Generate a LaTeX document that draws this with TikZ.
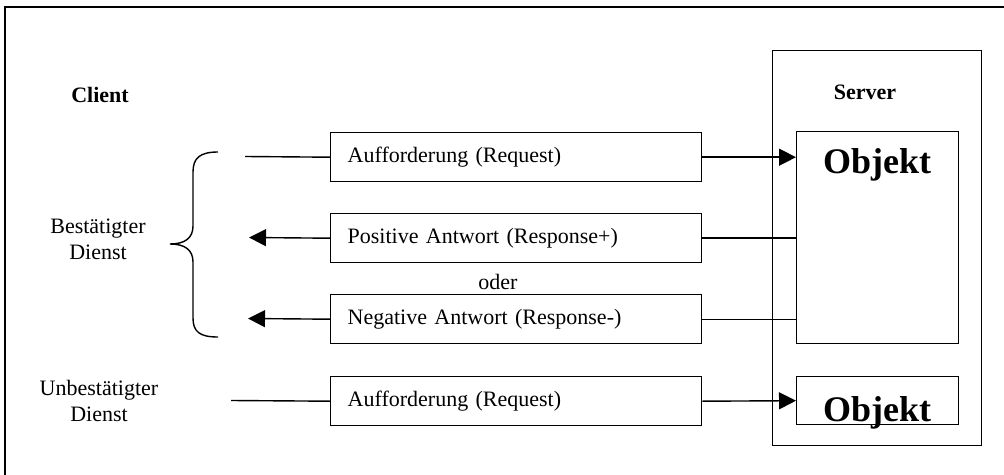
\documentclass[tikz,border=0pt]{standalone}
\usepackage{fontspec}
\setmainfont{Liberation Serif}
\usetikzlibrary{arrows.meta}
\begin{document}
\begin{tikzpicture}[x=0.5pt,y=-0.5pt,line width=0.7pt,
  every node/.style={font=\fontsize{11}{13}\selectfont},
  msgbox/.style={draw,anchor=north west,minimum height=24.5pt,text width=168.5pt,
    inner xsep=8.5pt,inner ysep=0pt,align=left},
  plainbox/.style={draw,anchor=north west,inner sep=0pt},
  bigword/.style={font=\fontsize{18}{20}\selectfont\bfseries},
  tip/.style={-{Triangle[length=8.5pt,width=8.5pt]}}]
\useasboundingbox (0,0) rectangle (1004,475);

% outer frame
\draw (5,475) -- (5,7) -- (1004,7);

% server side
\node[plainbox,minimum width=104.5pt,minimum height=197.5pt] (server) at (772,50) {};
\node (servertxt) at (865,92) {\bfseries Server};
\node[plainbox,minimum width=81pt,minimum height=106pt] (obj1) at (796,131) {};
\node[bigword] (obj1txt) at (877,165) {Objekt};
\node[plainbox,minimum width=81pt,minimum height=24pt] (obj2) at (796,376) {};
\node[bigword] (obj2txt) at (877,413) {Objekt};

% client side
\node (client) at (100,95) {\bfseries Client};
\node[align=center] (best) at (98,239) {Bestätigter\\Dienst};
\node[align=center] (unbest) at (99,401) {Unbestätigter\\Dienst};

% brace grouping the confirmed service
\draw (218,152) .. controls (200,152) and (193,158) .. (193,172) -- (193,226)
  .. controls (193,238) and (185,244) .. (170,244)
  .. controls (185,244) and (193,250) .. (193,262) -- (193,318)
  .. controls (193,332) and (200,337) .. (218,337);

% messages
\node[msgbox] (req1) at (330,132) {Aufforderung (Request)};
\node[msgbox] (pos) at (330,213) {Positive Antwort (Response+)};
\node (oder) at (498,282) {oder};
\node[msgbox] (neg) at (330,294) {Negative Antwort (Response-)};
\node[msgbox] (req2) at (330,376) {Aufforderung (Request)};

% free line ends on the client side
\coordinate (c1) at (245,156.5);
\coordinate (c2) at (249,237.5);
\coordinate (c3) at (248,318.5);
\coordinate (c4) at (231,400.5);

% connectors
\draw (c1) -- (req1.west);
\draw[tip] (req1.east) -- (obj1.west |- req1.east);
\draw[tip] (pos.west) -- (c2);
\draw (pos.east) -- (obj1.west |- pos.east);
\draw[tip] (neg.west) -- (c3);
\draw (neg.east) -- (obj1.west |- neg.east);
\draw (c4) -- (req2.west);
\draw[tip] (req2.east) -- (obj2.west);
\end{tikzpicture}
\end{document}
